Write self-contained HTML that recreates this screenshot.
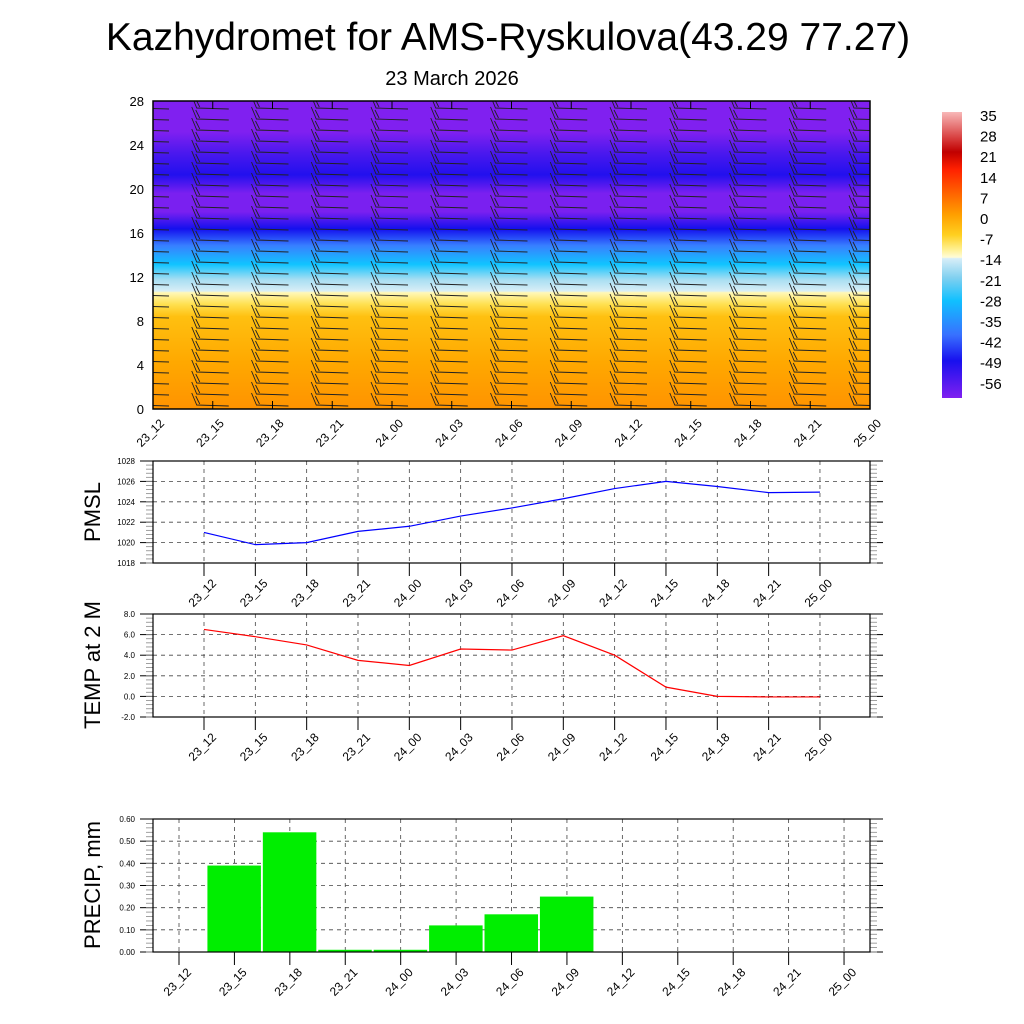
<!DOCTYPE html>
<html><head><meta charset="utf-8"><style>
html,body{margin:0;padding:0;background:#fff;}
svg{display:block;font-family:"Liberation Sans",sans-serif;}
</style></head><body>
<svg id="c" width="1024" height="1024" viewBox="0 0 1024 1024" xmlns="http://www.w3.org/2000/svg">
<defs>
<clipPath id="clip"><rect x="153" y="101" width="717" height="308"/></clipPath>
<linearGradient id="tg" x1="0" y1="1" x2="0" y2="0">
<stop offset="0" stop-color="#ff9300"/>
<stop offset="0.15" stop-color="#ffa800"/>
<stop offset="0.3" stop-color="#ffc010"/>
<stop offset="0.34" stop-color="#ffe050"/>
<stop offset="0.378" stop-color="#fff8b8"/>
<stop offset="0.383" stop-color="#d8eef6"/>
<stop offset="0.42" stop-color="#a8def2"/>
<stop offset="0.47" stop-color="#10c4ff"/>
<stop offset="0.53" stop-color="#3880ff"/>
<stop offset="0.585" stop-color="#1410ee"/>
<stop offset="0.64" stop-color="#7a20f0"/>
<stop offset="0.7" stop-color="#7a20f0"/>
<stop offset="0.76" stop-color="#2210ee"/>
<stop offset="0.83" stop-color="#4a18ee"/>
<stop offset="0.9" stop-color="#8020f0"/>
<stop offset="1" stop-color="#8020f0"/>
</linearGradient>
<linearGradient id="cg" x1="0" y1="0" x2="0" y2="1">
<stop offset="0" stop-color="#f8b8b8"/>
<stop offset="0.09" stop-color="#d84040"/>
<stop offset="0.14" stop-color="#c00000"/>
<stop offset="0.2" stop-color="#ff2000"/>
<stop offset="0.28" stop-color="#ff6000"/>
<stop offset="0.36" stop-color="#ffa000"/>
<stop offset="0.43" stop-color="#ffd020"/>
<stop offset="0.48" stop-color="#fff090"/>
<stop offset="0.508" stop-color="#fffcd8"/>
<stop offset="0.512" stop-color="#d8eef8"/>
<stop offset="0.58" stop-color="#80d0f0"/>
<stop offset="0.66" stop-color="#10c0ff"/>
<stop offset="0.78" stop-color="#3870ff"/>
<stop offset="0.87" stop-color="#1810ee"/>
<stop offset="1" stop-color="#8020f0"/>
</linearGradient>
</defs>
<text x="508" y="50" font-size="39" text-anchor="middle">Kazhydromet for AMS-Ryskulova(43.29 77.27)</text>
<text x="452" y="85" font-size="20" text-anchor="middle">23 March 2026</text>
<rect x="153" y="101" width="717" height="308" fill="url(#tg)"/>
<g id="barbs" clip-path="url(#clip)"></g>
<rect x="153" y="101" width="717" height="308" fill="none" stroke="#000" stroke-width="1.5"/>
<g id="g"></g>
<rect x="942" y="112" width="20" height="286" fill="url(#cg)"/>
</svg>
<script>
const times=["23_12","23_15","23_18","23_21","24_00","24_03","24_06","24_09","24_12","24_15","24_18","24_21","25_00"];
const heightTicks=[0,4,8,12,16,20,24,28];
const cbLabels=["35","28","21","14","7","0","-7","-14","-21","-28","-35","-42","-49","-56"];
const pmsl=[1021.0,1019.8,1020.0,1021.1,1021.6,1022.6,1023.4,1024.3,1025.3,1026.0,1025.5,1024.9,1024.95];
const pmslTicks=[1018,1020,1022,1024,1026,1028];
const temp=[6.5,5.8,5.0,3.5,3.0,4.6,4.5,5.9,4.0,0.9,0.0,-0.05,-0.05];
const tempTicks=[-2,0,2,4,6,8];
const precip=[0,0.39,0.54,0.01,0.01,0.12,0.17,0.25,0,0,0,0,0];
const precipTicks=[0,0.1,0.2,0.3,0.4,0.5,0.6];
const windLevels=[0,1,2,3,4,5,6,7,8,9,10,11,12,13,14,15,16,17,18,19,20,21,22,23,24,25,26,27];

const NS="http://www.w3.org/2000/svg";
const G=document.getElementById('g');
function el(t,a,p){const e=document.createElementNS(NS,t);for(const k in a)e.setAttribute(k,a[k]);(p||G).appendChild(e);return e;}

const tx=i=>153+i*(717/12);
const ty=h=>409-h*(308/28);
const B=document.getElementById('barbs');
times.forEach((t,i)=>{
  windLevels.forEach(h=>{
    const x=tx(i),y=ty(h)-4;
    const p=el('path',{d:`M${x-21} ${y-12}L${x-16} ${y}L${x+16} ${y+1}M${x-17} ${y-9}L${x-13} ${y-1}`,stroke:'#222','stroke-width':0.9,fill:'none'},B);
    
    
  });
  const lb=el('text',{x:0,y:0,'font-size':12,'text-anchor':'end',transform:`translate(${tx(i)+12},${424}) rotate(-45)`});
  lb.textContent=t;
  
  
  el('line',{x1:tx(i),x2:tx(i),y1:101,y2:109,stroke:'#000'});
  el('line',{x1:tx(i),x2:tx(i),y1:401,y2:409,stroke:'#000'});
});
heightTicks.forEach(h=>{
  const lb=el('text',{x:144,y:ty(h)+5,'font-size':13,'text-anchor':'end'});
  lb.textContent=h;
  
  
});
cbLabels.forEach((s,k)=>{
  const lb=el('text',{x:980,y:121+k*20.6,'font-size':15});
  lb.textContent=s;
  
  
});

function panel(top,bot,ticks,fmt,title,xs,labelY,name){
  const x0=153,x1=870,mn=ticks[0],mx=ticks[ticks.length-1];
  const sy=v=>bot-(v-mn)/(mx-mn)*(bot-top);
  ticks.forEach(v=>{
    el('line',{x1:x0,x2:x1,y1:sy(v),y2:sy(v),stroke:'#444','stroke-dasharray':'4 4','stroke-width':0.8});
    el('line',{x1:x0-13,x2:x0,y1:sy(v),y2:sy(v),stroke:'#000'});
    el('line',{x1:x1,x2:x1+13,y1:sy(v),y2:sy(v),stroke:'#000'});
    const lb=el('text',{x:x0-18,y:sy(v)+3,'font-size':8,'text-anchor':'end'});
    lb.textContent=fmt(v);
    
    
  });
  const step=(ticks[1]-ticks[0])/5;
  for(let v=mn;v<mx;v+=step){
    el('line',{x1:x0-7,x2:x0,y1:sy(v),y2:sy(v),stroke:'#888','stroke-width':0.8});
    el('line',{x1:x1,x2:x1+7,y1:sy(v),y2:sy(v),stroke:'#888','stroke-width':0.8});
  }
  times.forEach((t,i)=>{
    const x=xs(i);
    el('line',{x1:x,x2:x,y1:top,y2:bot,stroke:'#444','stroke-dasharray':'4 4','stroke-width':0.8});
    el('line',{x1:x,x2:x,y1:bot,y2:bot+13,stroke:'#000'});
    const lb=el('text',{x:0,y:0,'font-size':12,'text-anchor':'end',transform:`translate(${x+13},${bot+21}) rotate(-45)`});
    lb.textContent=t;
    
    
  });
  const tt=el('text',{x:0,y:0,'font-size':22,'text-anchor':'middle',transform:`translate(100,${labelY}) rotate(-90)`});
  tt.textContent=title;
  
  
  return sy;
}
const lx=i=>204+i*51.33;
const sp=panel(461,563,pmslTicks,v=>v,"PMSL",lx,512,'pmsl');
const pl=el('polyline',{points:pmsl.map((v,i)=>lx(i)+','+sp(v)).join(' '),fill:'none',stroke:'#0000ff','stroke-width':1.2});


el('rect',{x:153,y:461,width:717,height:102,fill:'none',stroke:'#000','stroke-width':1.2});

const st=panel(614,717,tempTicks,v=>v.toFixed(1),"TEMP at 2 M",lx,665,'temp');
const tl=el('polyline',{points:temp.map((v,i)=>lx(i)+','+st(v)).join(' '),fill:'none',stroke:'#ff0000','stroke-width':1.2});


el('rect',{x:153,y:614,width:717,height:103,fill:'none',stroke:'#000','stroke-width':1.2});

const px=i=>179+i*55.42;
const spr=panel(819,952,precipTicks,v=>v.toFixed(2),"PRECIP, mm",px,885,'precip');
precip.forEach((v,i)=>{
  if(v<=0)return;
  const r=el('rect',{x:px(i)-27,y:spr(v),width:53.5,height:952-spr(v),fill:'#00ee00'});
  
  
});
el('rect',{x:153,y:819,width:717,height:133,fill:'none',stroke:'#000','stroke-width':1.2});
</script>
</body></html>
